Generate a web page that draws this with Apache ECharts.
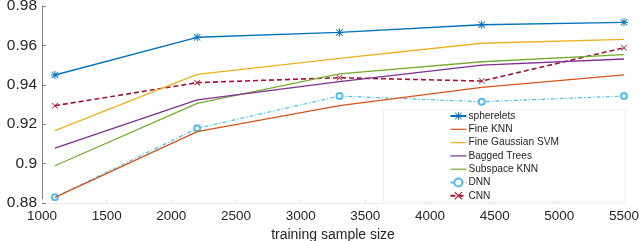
<!DOCTYPE html>
<html>
<head>
<meta charset="utf-8">
<script src="https://cdn.jsdelivr.net/npm/echarts@6/dist/echarts.min.js"></script>
<style>html,body{margin:0;padding:0;background:#fff}#c{width:640px;height:241px}</style>
</head>
<body>
<div id="c"></div>
<script>
const sampleSizes = [1100, 2200, 3300, 4400, 5500];
const seriesNames = ['spherelets', 'Fine KNN', 'Fine Gaussian SVM', 'Bagged Trees', 'Subspace KNN', 'DNN', 'CNN'];
const spherelets = [0.945, 0.9641, 0.9666, 0.9705, 0.9717];
const fineKNN = [0.8829, 0.9162, 0.9294, 0.9387, 0.945];
const fineGaussianSVM = [0.9167, 0.9453, 0.9534, 0.9611, 0.9631];
const baggedTrees = [0.9078, 0.9323, 0.9416, 0.950, 0.9531];
const subspaceKNN = [0.8989, 0.9306, 0.9455, 0.9517, 0.9553];
const dnn = [0.8829, 0.9179, 0.9343, 0.9314, 0.9343];
const cnn = [0.9294, 0.9411, 0.9436, 0.9419, 0.9588];
const xTicks = { min: 1000, max: 5500, interval: 500 };
const yTicks = { min: 0.88, max: 0.98, interval: 0.02 };

const asterisk = 'path://M4.4 0L5.6 0L5.6 10L4.4 10ZM0 4.4L10 4.4L10 5.6L0 5.6ZM0.6 1.4L1.4 0.6L9.4 8.6L8.6 9.4ZM8.6 0.6L9.4 1.4L1.4 9.4L0.6 8.6Z';
const cross = 'path://M0.6 1.4L1.4 0.6L9.4 8.6L8.6 9.4ZM8.6 0.6L9.4 1.4L1.4 9.4L0.6 8.6Z';
const plainLine = 'path://M0 4.4L16 4.4L16 5.6L0 5.6Z';

function pts(vals) { return sampleSizes.map((x, i) => [x, vals[i]]); }

const defs = [
  { data: spherelets, color: '#0072BD', symbol: asterisk, symbolSize: 8, type: 'solid', width: 1.4 },
  { data: fineKNN, color: '#D95319', symbol: 'none', type: 'solid', width: 1.3 },
  { data: fineGaussianSVM, color: '#EDB120', symbol: 'none', type: 'solid', width: 1.3 },
  { data: baggedTrees, color: '#7E2F8E', symbol: 'none', type: 'solid', width: 1.3 },
  { data: subspaceKNN, color: '#77AC30', symbol: 'none', type: 'solid', width: 1.3 },
  { data: dnn, color: '#4DBEEE', symbol: 'emptyCircle', symbolSize: 6, type: [4, 2, 1.2, 2], width: 1.2 },
  { data: cnn, color: '#A2142F', symbol: cross, symbolSize: 6, type: [5, 3], width: 1.6 }
];

const chart = echarts.init(document.getElementById('c'), null, { renderer: 'canvas' });
chart.setOption({
  animation: false,
  backgroundColor: '#fff',
  textStyle: { fontFamily: 'Liberation Sans, Arial, sans-serif' },
  grid: { left: 42, right: 16, top: 6, bottom: 38, containLabel: false, outerBoundsMode: 'none' },
  xAxis: {
    type: 'value', min: xTicks.min, max: xTicks.max, interval: xTicks.interval,
    name: 'training sample size', nameLocation: 'middle', nameGap: 21,
    nameTextStyle: { fontSize: 14, color: '#262626' },
    axisLine: { show: true, lineStyle: { color: '#ececec', width: 1 } },
    axisTick: { show: true, inside: true, length: 4, lineStyle: { color: '#e4e4e4' } },
    axisLabel: { fontSize: 13.5, color: '#262626', margin: 6, formatter: v => String(v) },
    splitLine: { show: false }
  },
  yAxis: {
    type: 'value', min: yTicks.min, max: yTicks.max, interval: yTicks.interval,
    name: 'accuracy', nameLocation: 'middle', nameGap: 24,
    nameTextStyle: { fontSize: 14.5, color: '#262626' },
    axisLine: { show: true, lineStyle: { color: '#808080', width: 1 } },
    axisTick: { show: true, inside: true, length: 4, lineStyle: { color: '#808080' } },
    axisLabel: { fontSize: 15.5, color: '#262626', margin: 5 },
    splitLine: { show: false }
  },
  legend: {
    orient: 'vertical', right: 15, top: 110,
    backgroundColor: '#fff', borderColor: '#efefef', borderWidth: 1,
    padding: [1, 66, 1, 66],
    itemWidth: 16, itemHeight: 10, itemGap: 3.3,
    textStyle: { fontSize: 10.2, color: '#262626', padding: [0, 0, 0, -3] },
    data: seriesNames.map((n, i) => defs[i].symbol === 'none' ? { name: n, icon: plainLine } : { name: n })
  },
  series: defs.map((d, i) => ({
    name: seriesNames[i], type: 'line', data: pts(d.data),
    symbol: d.symbol, symbolSize: d.symbolSize || 0, showSymbol: d.symbol !== 'none',
    color: d.color,
    lineStyle: { color: d.color, width: d.width, type: d.type },
    itemStyle: { color: d.color, borderColor: d.color, borderWidth: d.symbol === 'emptyCircle' ? 1 : 0 },
    z: 10 - i
  }))
});
</script>
</body>
</html>
